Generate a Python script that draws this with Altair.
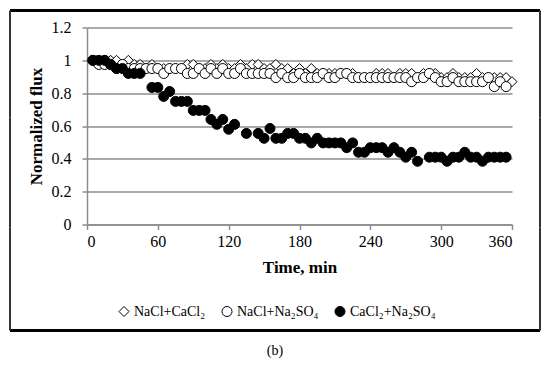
import altair as alt
import pandas as pd

SERIF = "Liberation Serif"
SERIES = ["NaCl+CaCl₂", "NaCl+Na₂SO₄", "CaCl₂+Na₂SO₄"]
X_TICKS = [0, 60, 120, 180, 240, 300, 360]
Y_TICKS = [0, 0.2, 0.4, 0.6, 0.8, 1.0, 1.2]

# NaCl+CaCl2 (open diamonds)
time_a = list(range(5, 365, 5))
flux_a = [1.0, 1.0, 1.0, 1.0, 1.0, 0.975, 1.0, 0.975, 0.975, 0.95,
          0.975, 0.95, 0.95, 0.95, 0.95, 0.95, 0.975, 0.975, 0.95, 0.95,
          0.975, 0.95, 0.975, 0.95, 0.95, 0.975, 0.95, 0.975, 0.975, 0.95,
          0.95, 0.975, 0.95, 0.95, 0.92, 0.95, 0.92, 0.95, 0.92, 0.92,
          0.92, 0.92, 0.92, 0.92, 0.92, 0.895, 0.895, 0.895, 0.92, 0.92,
          0.92, 0.895, 0.92, 0.92, 0.92, 0.895, 0.92, 0.92, 0.92, 0.895,
          0.895, 0.92, 0.895, 0.895, 0.895, 0.92, 0.895, 0.895, 0.895, 0.895,
          0.895, 0.87]

# NaCl+Na2SO4 (open circles)
time_b = list(range(5, 360, 5))
flux_b = [1.0, 0.975, 0.975, 0.975, 0.95, 0.975, 0.95, 0.95, 0.95, 0.95,
          0.95, 0.95, 0.92, 0.95, 0.95, 0.95, 0.92, 0.92, 0.95, 0.92,
          0.95, 0.92, 0.95, 0.92, 0.92, 0.95, 0.92, 0.92, 0.92, 0.92,
          0.92, 0.895, 0.92, 0.895, 0.895, 0.92, 0.895, 0.895, 0.895, 0.92,
          0.895, 0.895, 0.92, 0.92, 0.895, 0.895, 0.895, 0.895, 0.895, 0.895,
          0.895, 0.895, 0.895, 0.895, 0.87, 0.895, 0.895, 0.92, 0.895, 0.87,
          0.87, 0.895, 0.87, 0.87, 0.87, 0.87, 0.87, 0.895, 0.84, 0.87,
          0.84]

# CaCl2+Na2SO4 (filled circles)
time_c = [5, 10, 15, 20, 25, 30, 35, 40, 45,
          55, 60, 65, 70, 75, 80, 85, 90, 95, 100, 105, 110, 115, 120, 125,
          135,
          145, 150, 155, 160, 165, 170, 175, 180, 185, 190, 195, 200, 205, 210,
          215, 220, 225, 230, 235, 240, 245, 250, 255, 260, 265, 270, 275, 280,
          290, 295, 300, 305, 310, 315, 320, 325, 330, 335, 340, 345, 350, 355]
flux_c = [1.0, 1.0, 1.0, 0.975, 0.95, 0.95, 0.92, 0.92, 0.92,
          0.835, 0.835, 0.78, 0.81, 0.75, 0.75, 0.75, 0.695, 0.695, 0.695, 0.64,
          0.61, 0.64, 0.58, 0.61,
          0.555,
          0.555, 0.525, 0.585, 0.525, 0.525, 0.555, 0.555, 0.525, 0.525, 0.497,
          0.525, 0.497, 0.497, 0.497, 0.497, 0.468, 0.497, 0.44, 0.44, 0.468,
          0.468, 0.468, 0.44, 0.468, 0.44, 0.41, 0.44, 0.385,
          0.41, 0.41, 0.41, 0.385, 0.41, 0.41, 0.44, 0.41, 0.41, 0.385,
          0.41, 0.41, 0.41, 0.41]

df = pd.concat([
    pd.DataFrame({"time": time_a, "flux": flux_a, "series": SERIES[0]}),
    pd.DataFrame({"time": time_b, "flux": flux_b, "series": SERIES[1]}),
    pd.DataFrame({"time": time_c, "flux": flux_c, "series": SERIES[2]}),
], ignore_index=True)

legend = alt.Legend(
    title=None, orient="none", legendX=30, legendY=277, direction="horizontal",
    columns=3, labelFont=SERIF, labelFontSize=14, labelColor="black",
    columnPadding=14, symbolStrokeWidth=1,
    symbolSize=100, labelOffset=3, padding=0,
)

points = alt.Chart(df).mark_point(
    filled=True, size=100, strokeWidth=1, opacity=1
).encode(
    x=alt.X("time:Q", scale=alt.Scale(domain=[0, 360], nice=False),
            axis=alt.Axis(values=X_TICKS, title="Time, min", grid=False,
                          labelPadding=4, titlePadding=10,
                          labelFont=SERIF, labelFontSize=16, titleFont=SERIF,
                          titleFontSize=17, titleFontWeight="bold")),
    y=alt.Y("flux:Q", scale=alt.Scale(domain=[0, 1.2], nice=False),
            axis=alt.Axis(values=Y_TICKS, format="~g", title="Normalized flux",
                          labelPadding=11, titlePadding=6,
                          labelFont=SERIF, labelFontSize=16, titleFont=SERIF,
                          titleFontSize=17, titleFontWeight="bold")),
    shape=alt.Shape("series:N", scale=alt.Scale(domain=SERIES, range=["diamond", "circle", "circle"]),
                    legend=legend),
    fill=alt.Fill("series:N", scale=alt.Scale(domain=SERIES, range=["white", "white", "black"]),
                  legend=legend),
    stroke=alt.Stroke("series:N", scale=alt.Scale(domain=SERIES, range=["black", "black", "black"]),
                      legend=legend),
)

# Outer figure frame, drawn as rule segments
one = pd.DataFrame({"k": [0]})
X_BREAKS = [-77, 55, 190, 325, 453]
Y_BREAKS = [-17, 90, 200, 303]
edges = []
for a, b in zip(X_BREAKS[:-1], X_BREAKS[1:]):
    for yy in (Y_BREAKS[0], Y_BREAKS[-1]):
        edges.append(alt.Chart(one).mark_rule(color="black", strokeWidth=3).encode(
            x=alt.value(a), x2=alt.value(b), y=alt.value(yy)))
for a, b in zip(Y_BREAKS[:-1], Y_BREAKS[1:]):
    for xx in (X_BREAKS[0], X_BREAKS[-1]):
        edges.append(alt.Chart(one).mark_rule(color="#333333", strokeWidth=2).encode(
            x=alt.value(xx), y=alt.value(a), y2=alt.value(b)))

chart = alt.layer(points, *edges).properties(
    width=425, height=197,
    autosize=alt.AutoSizeParams(type="none"),
    padding={"left": 79, "top": 19.5, "right": 30, "bottom": 134},
    background="white",
    title=alt.TitleParams("(b)", orient="bottom", anchor="middle", frame="bounds",
                          font=SERIF, fontSize=14, fontWeight="normal", color="black", offset=12),
).configure_view(stroke=None).configure_axis(
    domainColor="#8c8c8c", domainWidth=1.5, tickColor="#8c8c8c", tickWidth=1.5, tickSize=5,
    gridColor="#8c8c8c", gridWidth=1.5, labelColor="black", titleColor="black",
)

chart.save("out.html", embed_options={"renderer": "svg", "actions": False})
